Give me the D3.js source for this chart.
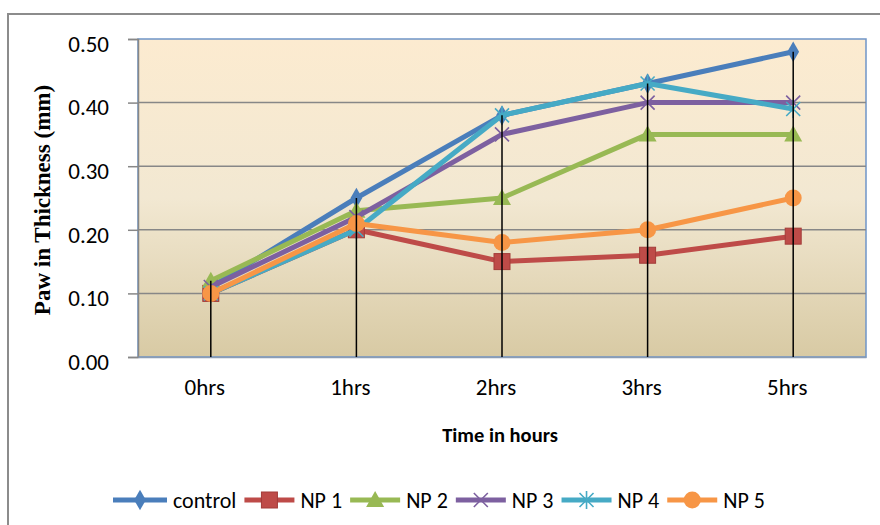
<!DOCTYPE html>
<head lang="en">
<meta charset="utf-8">
<title>Paw in Thickness</title>
<style>
body { margin:0; background:#fff; }
.tick-lbl { font-family:Carlito,"Liberation Sans Narrow","Open Sans",sans-serif; font-size:23px; font-weight:normal; fill:#000; }
.leg-lbl { font-family:Carlito,"Liberation Sans Narrow","Open Sans",sans-serif; font-size:22px; font-weight:normal; fill:#000; }
.x-title { font-family:Carlito,"Liberation Sans Narrow","Open Sans",sans-serif; font-size:20.5px; font-weight:bold; }
.y-title { font-family:"Liberation Serif","Times New Roman",serif; font-size:23px; font-weight:bold; }
</style>
<script src="https://cdn.jsdelivr.net/npm/d3@7"></script>
</head>
<body>
<div id="chart"></div>
<script>
// data
var categories = ["0hrs", "1hrs", "2hrs", "3hrs", "5hrs"];
var seriesNames = ["control", "NP 1", "NP 2", "NP 3", "NP 4", "NP 5"];
var control = [0.11, 0.25, 0.38, 0.43, 0.48];
var np1 = [0.10, 0.20, 0.15, 0.16, 0.19];
var np2 = [0.12, 0.23, 0.25, 0.35, 0.35];
var np3 = [0.11, 0.22, 0.35, 0.40, 0.40];
var np4 = [0.10, 0.20, 0.38, 0.43, 0.39];
var np5 = [0.10, 0.21, 0.18, 0.20, 0.25];
var yTicks = [0, 0.1, 0.2, 0.3, 0.4, 0.5];

var seriesValues = [control, np1, np2, np3, np4, np5];
var colors = ["#4a7ebb", "#be4b48", "#98b954", "#7d60a0", "#46aac5", "#f79646"];
var shapes = ["diamond", "square", "triangle", "x", "star", "circle"];

var width = 880, height = 525;
var plot = {left: 138, top: 39, right: 866, bottom: 357};

var svg = d3.select("#chart").append("svg")
    .attr("width", width)
    .attr("height", height);

// outer chart frame (right / bottom edges fall off the picture)
svg.append("rect")
    .attr("x", 8).attr("y", 14)
    .attr("width", 900).attr("height", 600)
    .style("fill", "#fff")
    .style("stroke", "#8c8c8c")
    .style("stroke-width", "2px");

var x = d3.scaleBand().domain(categories).range([plot.left, plot.right]);
var y = d3.scaleLinear().domain([0, 0.5]).range([plot.bottom, plot.top]);

// plot area gradient
var grad = svg.append("defs").append("linearGradient")
    .attr("id", "bg").attr("x1", 0).attr("y1", 0).attr("x2", 0).attr("y2", 1);
grad.append("stop").attr("offset", "0").attr("stop-color", "#fcebd0");
grad.append("stop").attr("offset", "0.5").attr("stop-color", "#f2e8d2");
grad.append("stop").attr("offset", "1").attr("stop-color", "#d8caa4");

svg.append("rect")
    .attr("x", plot.left).attr("y", plot.top)
    .attr("width", plot.right - plot.left).attr("height", plot.bottom - plot.top)
    .style("fill", "url(#bg)")
    .style("stroke", "#6f95c8")
    .style("stroke-width", "1.5px");

// gridlines
svg.selectAll("line.grid")
    .data(yTicks.slice(1, -1))
    .enter()
    .append("line")
        .attr("class", "grid")
        .attr("x1", plot.left).attr("x2", plot.right)
        .attr("y1", function(d) { return y(d); })
        .attr("y2", function(d) { return y(d); })
        .style("stroke", "#878787")
        .style("stroke-width", "1.5px");

// y axis
var yAxis = d3.axisLeft(y)
    .tickValues(yTicks)
    .tickSize(10)
    .tickPadding(19)
    .tickFormat(d3.format(".2f"));
var gy = svg.append("g").attr("transform", "translate(" + plot.left + ",0)").call(yAxis);
gy.attr("font-size", null).attr("font-family", null);
gy.select(".domain").style("stroke", "#878787").style("stroke-width", "1.5px");
gy.selectAll(".tick line").style("stroke", "#878787").style("stroke-width", "1.5px");
gy.selectAll(".tick text").attr("class", "tick-lbl").attr("transform", "translate(0,5)");

// x axis
var gx = svg.append("g").attr("transform", "translate(0," + plot.bottom + ")")
    .call(d3.axisBottom(x).tickSize(0).tickPadding(22));
gx.attr("font-size", null).attr("font-family", null);
gx.select(".domain").style("stroke", "#8a9cb5").style("stroke-width", "1.5px");
gx.selectAll(".tick text").attr("class", "tick-lbl").attr("transform", "translate(-6,0)");

// axis titles
svg.append("text")
    .attr("class", "x-title")
    .attr("x", (plot.left + plot.right) / 2 - 2)
    .attr("y", 442)
    .attr("text-anchor", "middle")
    .text("Time in hours");

svg.append("text")
    .attr("class", "y-title")
    .attr("transform", "translate(50," + ((plot.top + plot.bottom) / 2 + 2) + ") rotate(-90)")
    .attr("text-anchor", "middle")
    .text("Paw in Thickness (mm)");

// marker helper
function drawMarker(g, shape, color) {
    if (shape == "diamond") {
        g.append("path").attr("d", d3.symbol().type(d3.symbolDiamond).size(120)).style("fill", color);
    } else if (shape == "square") {
        g.append("rect").attr("x", -8).attr("y", -8).attr("width", 16).attr("height", 16)
            .style("fill", color).style("stroke", "#a33c39").style("stroke-width", "1px");
    } else if (shape == "triangle") {
        g.append("path").attr("d", "M0,-9L9,7L-9,7Z").style("fill", color);
    } else if (shape == "x") {
        g.append("path").attr("d", "M-7,-7L7,7M-7,7L7,-7")
            .style("stroke", color).style("stroke-width", "1.6px").style("fill", "none");
    } else if (shape == "star") {
        g.append("path").attr("d", "M-7,-7L7,7M-7,7L7,-7M0,-9L0,9")
            .style("stroke", color).style("stroke-width", "1.6px").style("fill", "none");
    } else {
        g.append("circle").attr("r", 8.5).style("fill", color);
    }
}

var line = d3.line()
    .x(function(d, i) { return x(categories[i]) + x.bandwidth() / 2; })
    .y(function(d) { return y(d); });

seriesValues.forEach(function(vals, s) {
    svg.append("path")
        .datum(vals)
        .attr("d", line)
        .style("fill", "none")
        .style("stroke", colors[s])
        .style("stroke-width", "5px")
        .style("stroke-linejoin", "round");
    vals.forEach(function(v, i) {
        var g = svg.append("g")
            .attr("transform", "translate(" + (x(categories[i]) + x.bandwidth() / 2) + "," + y(v) + ")");
        drawMarker(g, shapes[s], colors[s]);
    });
});

// drop lines from the highest point down to the axis
svg.selectAll("line.drop")
    .data(categories)
    .enter()
    .append("line")
        .attr("class", "drop")
        .attr("x1", function(d) { return x(d) + x.bandwidth() / 2; })
        .attr("x2", function(d) { return x(d) + x.bandwidth() / 2; })
        .attr("y1", function(d, i) { return y(d3.max(seriesValues, function(s) { return s[i]; })); })
        .attr("y2", plot.bottom)
        .style("stroke", "#000")
        .style("stroke-width", "1.5px");

// legend
var legend = svg.append("g").attr("transform", "translate(113,500)");
var lx = 0;
seriesNames.forEach(function(name, s) {
    var item = legend.append("g").attr("transform", "translate(" + lx + ",0)");
    var len = s == 0 ? 54 : 50;
    item.append("line")
        .attr("x1", 0).attr("x2", len)
        .style("stroke", colors[s])
        .style("stroke-width", "5px");
    var m = item.append("g").attr("transform", "translate(" + (len / 2) + ",0)");
    drawMarker(m, shapes[s], colors[s]);
    var t = item.append("text")
        .attr("class", "leg-lbl")
        .attr("x", len + 6)
        .attr("dy", "0.35em")
        .text(name);
    lx += len + 6 + t.node().getComputedTextLength() + 8;
});
</script>
</body>
</html>
